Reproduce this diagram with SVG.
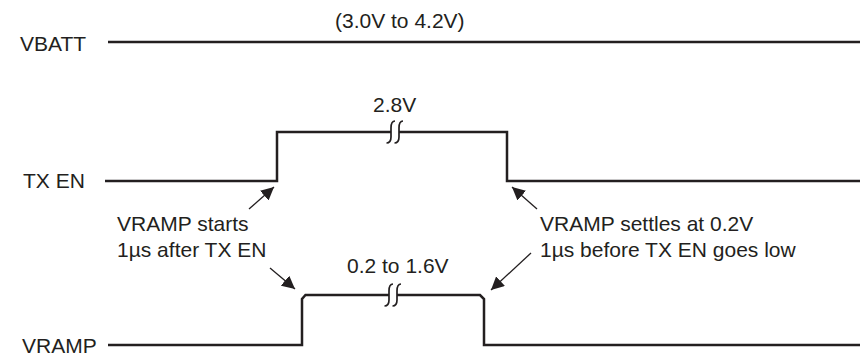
<svg xmlns="http://www.w3.org/2000/svg" width="860" height="360" viewBox="0 0 860 360">
<defs>
<style>
text{font-family:"Liberation Sans",Arial,sans-serif;font-size:21px;fill:#231f20}
.w{fill:none;stroke:#231f20;stroke-width:2.5;stroke-linejoin:miter}
.b{fill:none;stroke:#231f20;stroke-width:1.7}
.a{fill:none;stroke:#231f20;stroke-width:1.3}
</style>
<marker id="ah" viewBox="0 0 10 10" refX="10" refY="5" markerWidth="13" markerHeight="13" markerUnits="userSpaceOnUse" orient="auto">
<path d="M0,0 L10,5 L0,10 Z" fill="#231f20"/>
</marker>
</defs>
<rect width="860" height="360" fill="#fff"/>
<g id="vbatt">
<text x="20" y="51">VBATT</text>
<text x="335" y="28">(3.0V to 4.2V)</text>
<path class="w" d="M108,42 H860"/>
</g>
<g id="txen">
<text x="23" y="188">TX EN</text>
<text x="373" y="112">2.8V</text>
<path class="w" d="M105,181 H277 V132 H391"/>
<path class="w" d="M399,132 H507 V181 H860"/>
<path class="b" d="M395,121 C391.5,121 391,124 391,128 V137 C391,141 390,143 386.5,143"/>
<path class="b" d="M403,121 C399.5,121 399,124 399,128 V137 C399,141 398,143 394.5,143"/>
</g>
<g id="vramp">
<text x="22" y="353">VRAMP</text>
<text x="347" y="273">0.2 to 1.6V</text>
<path class="w" d="M108,345 H302 V299 L305.5,295 H389"/>
<path class="w" d="M397,295 H480 L484,299 V345 H860"/>
<path class="b" d="M393,284 C389.5,284 389,287 389,291 V300 C389,304 388,306 384.5,306"/>
<path class="b" d="M401,284 C397.5,284 397,287 397,291 V300 C397,304 396,306 392.5,306"/>
</g>
<g id="note-start">
<text x="117" y="231">VRAMP starts</text>
<text x="117" y="257">1µs after TX EN</text>
</g>
<g id="note-settle">
<text x="540" y="231">VRAMP settles at 0.2V</text>
<text x="540" y="257">1µs before TX EN goes low</text>
</g>
<g id="connectors">
<path class="a" d="M249,209 L274,187" marker-end="url(#ah)"/>
<path class="a" d="M270,268 L295,289" marker-end="url(#ah)"/>
<path class="a" d="M537,209 L512,187" marker-end="url(#ah)"/>
<path class="a" d="M531,253 L491,290" marker-end="url(#ah)"/>
</g>
</svg>
